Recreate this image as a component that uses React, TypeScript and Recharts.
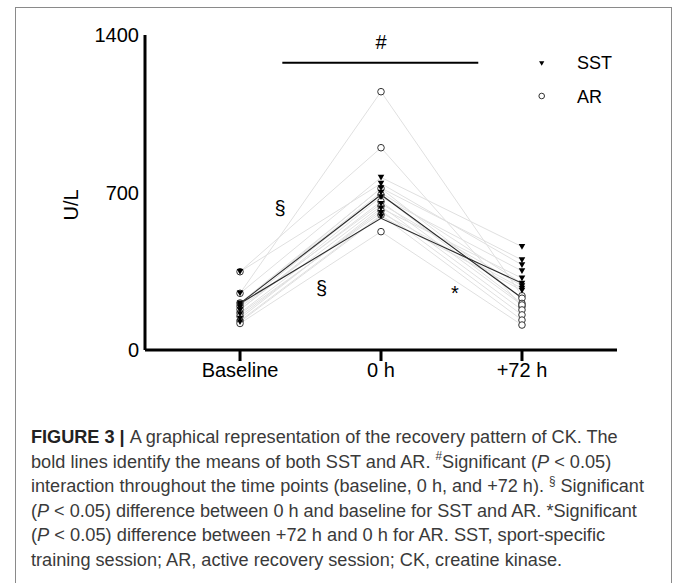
import React, { useLayoutEffect, useRef, useState } from 'react';
import { LineChart, Line, XAxis, YAxis, ReferenceLine, ReferenceDot } from 'recharts';

// ---------- data ----------
const timeLabels = ['Baseline', '0 h', '+72 h'];
const yTicks = [0, 700, 1400];

// SST (sport-specific training) individual subjects
const sstBaseline = [348, 252, 208, 200, 190, 178, 160, 140, 125];
const sst0h = [740, 767, 700, 720, 650, 680, 610, 630, 595];
const sst72h = [378, 459, 296, 400, 285, 351, 274, 319, 265];

// AR (active recovery) individual subjects
const arBaseline = [252, 348, 209, 195, 180, 165, 150, 130, 118];
const ar0h = [1148, 899, 718, 690, 660, 640, 620, 600, 526];
const ar72h = [241, 193, 230, 207, 200, 178, 156, 133, 111];

// group means (bold lines)
const sstMean = [207, 585, 297];
const arMean = [207, 690, 231];

const legendLabels = ['SST', 'AR'];

// significance annotations (x in time-point index units, y in U/L)
const sigBar = { from: 0.3, to: 1.69, y: 1277 };
const annotations = [
  { x: 1.0, y: 1369, text: '#' },
  { x: 0.284, y: 622, text: '§' },
  { x: 0.579, y: 267, text: '§' },
  { x: 1.525, y: 267, text: '*' },
];

const captionLines = [
  [{ t: 'FIGURE 3 | ', b: true }, { t: 'A graphical representation of the recovery pattern of CK. The' }],
  [{ t: 'bold lines identify the means of both SST and AR. ' }, { t: '#', sup: true }, { t: 'Significant (' }, { t: 'P', i: true }, { t: ' < 0.05)' }],
  [{ t: 'interaction throughout the time points (baseline, 0 h, and +72 h). ' }, { t: '§', sup: true }, { t: ' Significant' }],
  [{ t: '(' }, { t: 'P', i: true }, { t: ' < 0.05) difference between 0 h and baseline for SST and AR. *Significant' }],
  [{ t: '(' }, { t: 'P', i: true }, { t: ' < 0.05) difference between +72 h and 0 h for AR. SST, sport-specific' }],
  [{ t: 'training session; AR, active recovery session; CK, creatine kinase.' }],
];

// ---------- styling ----------
const FONT = '"Liberation Sans", Arial, Helvetica, sans-serif';
const glyphBaselineShift: Record<string, number> = { '#': 7, '§': 5, '*': 10 };
const captionLayout = {
  x: 31,
  baselines: [43, 67.5, 92, 116.7, 141.3, 166],
  widths: [587, 580, 613, 606, 574, 531],
};

const nSubjects = sstBaseline.length;
const sstSeries = [sstBaseline, sst0h, sst72h];
const arSeries = [arBaseline, ar0h, ar72h];

const data = timeLabels.map((_, i) => {
  const row: Record<string, number> = { x: i };
  for (let k = 0; k < nSubjects; k++) {
    row[`sst${k}`] = sstSeries[i][k];
    row[`ar${k}`] = arSeries[i][k];
  }
  row.sstMean = sstMean[i];
  row.arMean = arMean[i];
  return row;
});

const Triangle = ({ cx, cy, s = 1 }: { cx: number; cy: number; s?: number }) => (
  <path
    d={`M${cx - 3.3 * s},${cy - 2.7 * s}L${cx + 3.3 * s},${cy - 2.7 * s}L${cx},${cy + 3 * s}Z`}
    fill="#000"
  />
);

const Circle = ({ cx, cy, r = 3.3 }: { cx: number; cy: number; r?: number }) => (
  <circle cx={cx} cy={cy} r={r} fill="#fff" stroke="#333" strokeWidth={1} />
);

const LegendBox = () => (
  <svg width={120} height={62} style={{ display: 'block' }}>
    <Triangle cx={11.7} cy={13.3} s={0.8} />
    <text x={47} y={13.3} dominantBaseline="central" fontSize={18} fill="#000" fontFamily={FONT}>
      {legendLabels[0]}
    </text>
    <Circle cx={11.7} cy={46} r={2.8} />
    <text x={47} y={46.7} dominantBaseline="central" fontSize={18} fill="#000" fontFamily={FONT}>
      {legendLabels[1]}
    </text>
  </svg>
);

const Caption = () => {
  const refs = useRef<(SVGTextElement | null)[]>([]);
  const [scales, setScales] = useState<number[]>(captionLines.map(() => 0.89));
  useLayoutEffect(() => {
    const s = captionLines.map((_, i) => {
      const el = refs.current[i];
      if (!el) return 0.89;
      const w = el.getComputedTextLength();
      return w > 0 ? captionLayout.widths[i] / w : 0.89;
    });
    setScales(s);
  }, []);
  return (
    <svg width={673} height={183} style={{ position: 'absolute', left: 0, top: 400 }}>
      {captionLines.map((line, li) => (
        <g key={li} transform={`translate(${captionLayout.x},${captionLayout.baselines[li]}) scale(${scales[li]},1)`}>
          <text
            ref={(el) => {
              refs.current[li] = el;
            }}
            x={0}
            y={0}
            fontSize={18.5}
            fill="#3a3a3a"
            fontFamily={FONT}
          >
            {line.map((seg: any, si) => (
              <tspan
                key={si}
                fontWeight={seg.b ? 'bold' : undefined}
                fill={seg.b ? '#222' : undefined}
                fontStyle={seg.i ? 'italic' : undefined}
                fontSize={seg.sup ? 12 : undefined}
                baselineShift={seg.sup ? 'super' : undefined}
              >
                {seg.t}
              </tspan>
            ))}
          </text>
        </g>
      ))}
    </svg>
  );
};

export default function App() {
  return (
    <div
      style={{
        position: 'absolute',
        left: 0,
        top: 0,
        width: 673,
        height: 583,
        overflow: 'hidden',
        background: '#fff',
        fontFamily: FONT,
      }}
    >
      <div
        style={{
          position: 'absolute',
          left: 15,
          top: 7,
          width: 655,
          height: 620,
          border: '1px solid #8a8a8a',
        }}
      />
      <div style={{ position: 'absolute', left: 0, top: 0 }}>
        <LineChart
          width={673}
          height={400}
          data={data}
          margin={{ top: 35, right: 56, bottom: 0, left: 0 }}
          style={{ fontFamily: FONT }}
        >
          <XAxis
            dataKey="x"
            type="number"
            domain={[-0.674, 2.674]}
            ticks={[0, 1, 2]}
            interval={0}
            allowDataOverflow
            tickFormatter={(v: number) => timeLabels[v] ?? ''}
            height={50}
            tickSize={11}
            tickMargin={2}
            axisLine={{ stroke: '#000', strokeWidth: 3 }}
            tickLine={{ stroke: '#000', strokeWidth: 3 }}
            tick={{ fill: '#000', fontSize: 20, fontFamily: FONT }}
          />
          <YAxis
            type="number"
            domain={[0, 1400]}
            ticks={yTicks}
            interval={0}
            width={145}
            tickLine={false}
            tickSize={0}
            tickMargin={6}
            axisLine={{ stroke: '#000', strokeWidth: 3 }}
            tick={{ fill: '#000', fontSize: 20, fontFamily: FONT }}
            label={(props: any) => {
              const vb = props.viewBox || { x: 0, y: 35, width: 145, height: 315 };
              const x = vb.x + 71;
              const y = vb.y + vb.height / 2 + 12.5;
              return (
                <text
                  x={x}
                  y={y}
                  transform={`rotate(-90, ${x}, ${y})`}
                  textAnchor="middle"
                  dominantBaseline="central"
                  fontSize={20}
                  fill="#000"
                  fontFamily={FONT}
                >
                  U/L
                </text>
              );
            }}
          />

          {Array.from({ length: nSubjects }).map((_, k) => (
            <Line
              key={`arl${k}`}
              dataKey={`ar${k}`}
              stroke="#e0e0e0"
              strokeWidth={1}
              dot={false}
              legendType="none"
              isAnimationActive={false}
            />
          ))}
          {Array.from({ length: nSubjects }).map((_, k) => (
            <Line
              key={`sstl${k}`}
              dataKey={`sst${k}`}
              stroke="#e0e0e0"
              strokeWidth={1}
              dot={false}
              legendType="none"
              isAnimationActive={false}
            />
          ))}
          <Line dataKey="sstMean" stroke="#2a2a2a" strokeWidth={1.1} dot={false} legendType="none" isAnimationActive={false} />
          <Line dataKey="arMean" stroke="#2a2a2a" strokeWidth={1.1} dot={false} legendType="none" isAnimationActive={false} />

          {Array.from({ length: nSubjects }).map((_, k) => (
            <Line
              key={`ard${k}`}
              dataKey={`ar${k}`}
              stroke="none"
              legendType="none"
              isAnimationActive={false}
              dot={(p: any) => <Circle key={`c-${k}-${p.index}`} cx={p.cx} cy={p.cy} />}
              activeDot={false}
            />
          ))}
          {Array.from({ length: nSubjects }).map((_, k) => (
            <Line
              key={`sstd${k}`}
              dataKey={`sst${k}`}
              stroke="none"
              legendType="none"
              isAnimationActive={false}
              dot={(p: any) => <Triangle key={`t-${k}-${p.index}`} cx={p.cx} cy={p.cy} />}
              activeDot={false}
            />
          ))}

          <ReferenceLine
            segment={[
              { x: sigBar.from, y: sigBar.y },
              { x: sigBar.to, y: sigBar.y },
            ]}
            stroke="#000"
            strokeWidth={2}
          />
          {annotations.map((a, i) => (
            <ReferenceDot
              key={`ann${i}`}
              x={a.x}
              y={a.y}
              r={0}
              ifOverflow="visible"
              shape={(p: any) => (
                <text
                  x={p.cx}
                  y={p.cy + (glyphBaselineShift[a.text] || 0)}
                  textAnchor="middle"
                  fontSize={20}
                  fill="#000"
                  fontFamily={FONT}
                >
                  {a.text}
                </text>
              )}
            />
          ))}
        </LineChart>
      </div>
      <div style={{ position: 'absolute', left: 530, top: 50 }}>
        <LegendBox />
      </div>
      <Caption />
    </div>
  );
}
